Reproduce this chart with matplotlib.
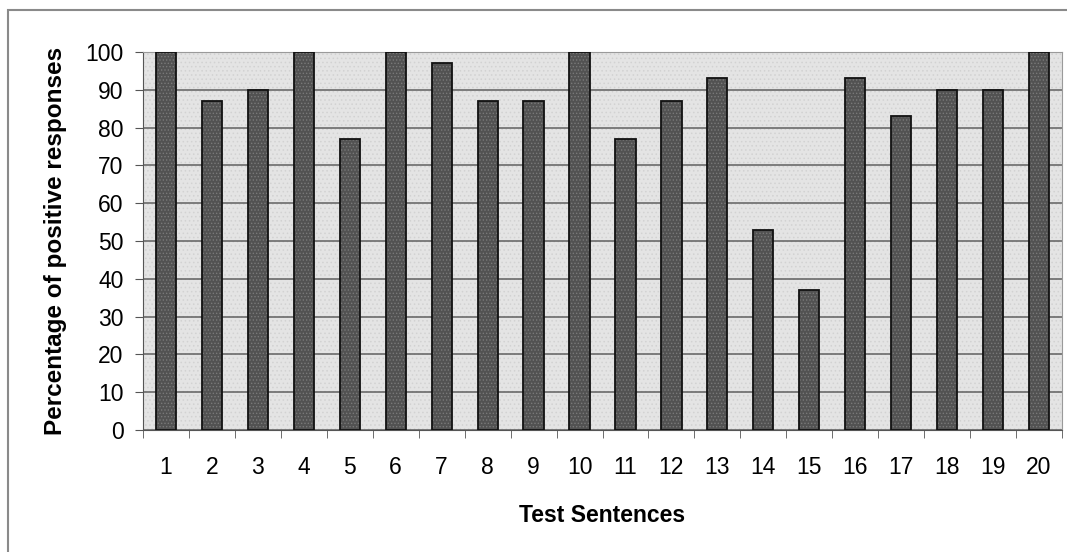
import matplotlib.pyplot as plt
from matplotlib.patches import Rectangle

plt.rcParams['font.family'] = ['Liberation Sans', 'DejaVu Sans']
plt.rcParams['hatch.linewidth'] = 0.6

sentences = [str(i) for i in range(1, 21)]
positive_pct = [100, 87, 90, 100, 77, 100, 97, 87, 87, 100,
                77, 87, 93, 53, 37, 93, 83, 90, 90, 100]
y_ticks = list(range(0, 101, 10))

fig = plt.figure(figsize=(10.67, 5.52), dpi=100)
ax = fig.add_axes([143 / 1067, 1 - 430 / 552, (1062 - 143) / 1067, (430 - 52) / 552])

# outer frame of the chart area
fig.patches.append(Rectangle((8 / 1067, -0.02), 1.1, 1 - 10 / 552 + 0.02,
                             transform=fig.transFigure, fill=False,
                             edgecolor='#8a8a8a', linewidth=1.5))

# light dotted plot background
ax.set_facecolor('#e4e4e4')
ax.add_patch(Rectangle((0, 0), 1, 1, transform=ax.transAxes, facecolor='none',
                       edgecolor='#d2d2d2', hatch='....', linewidth=0, zorder=0))

x = list(range(len(sentences)))
# textured fill, then outline
ax.bar(x, positive_pct, width=0.44, color='#525252', edgecolor='#7a7a7a',
       linewidth=0, hatch='.....', zorder=3)
ax.bar(x, positive_pct, width=0.44, fill=False, edgecolor='#111111',
       linewidth=1.3, zorder=4)

ax.set_xlim(-0.5, len(sentences) - 0.5)
ax.set_ylim(0, 100)
ax.set_yticks(y_ticks)
ax.set_xticks(x)
ax.set_xticklabels(sentences)
ax.set_xticks([i + 0.5 for i in range(-1, len(sentences))], minor=True)
ax.tick_params(axis='x', which='major', length=0, pad=19, labelsize=16.5)
ax.tick_params(axis='x', which='minor', length=6, direction='out', color='#555555')
ax.tick_params(axis='y', length=6, direction='out', labelsize=16.5, pad=8, color='#555555')
ax.grid(axis='y', color='#606060', linewidth=1.1, zorder=1)

for side in ['top', 'right']:
    ax.spines[side].set_color('#9a9a9a')
ax.spines['left'].set_color('#555555')
ax.spines['bottom'].set_color('#555555')

ax.set_xlabel('Test Sentences', fontsize=16.5, fontweight='bold', labelpad=18)
ax.set_ylabel('Percentage of positive responses', fontsize=17.5, fontweight='bold', labelpad=13)

fig.savefig('out.png', dpi=100)
